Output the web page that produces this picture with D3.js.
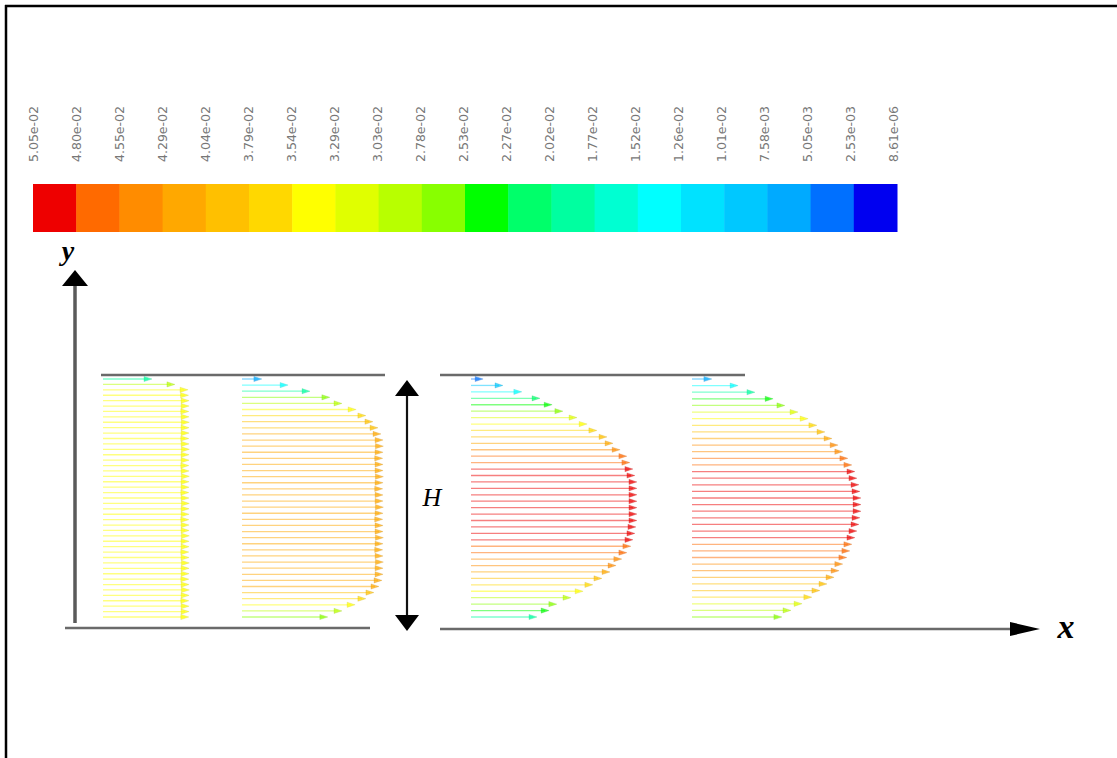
<!DOCTYPE html>
<html>
<head>
<meta charset="utf-8">
<script src="https://cdn.jsdelivr.net/npm/d3@7"></script>
<style>
  body { margin: 0; background: #fff; }
  svg { display: block; }
</style>
</head>
<body>
<svg width="1117" height="758"></svg>
<script>
// data
const tickLabels = ['5.05e-02', '4.80e-02', '4.55e-02', '4.29e-02', '4.04e-02', '3.79e-02', '3.54e-02',
  '3.29e-02', '3.03e-02', '2.78e-02', '2.53e-02', '2.27e-02', '2.02e-02', '1.77e-02', '1.52e-02',
  '1.26e-02', '1.01e-02', '7.58e-03', '5.05e-03', '2.53e-03', '8.61e-06'];

// bandes de la légende, de gauche (max) à droite (min)
const bandColors = ['#ee0000', '#ff6a00', '#ff8c00', '#ffa800', '#ffc000', '#ffd800', '#ffff00',
  '#e0ff00', '#b8ff00', '#88ff00', '#00ff00', '#00ff6a', '#00ffa0', '#00ffd2', '#00ffff',
  '#00e2ff', '#00c8ff', '#00aaff', '#0070ff', '#0000f0'];

const uMin = 8.61e-6;
const uMax = 0.0505;

// vitesses (m/s) le long de chaque section, du bas vers le haut
const profile1 = [0.0340, 0.0341, 0.0341, 0.0340, 0.0341, 0.0342, 0.0341, 0.0340, 0.0341, 0.0341,
  0.0342, 0.0341, 0.0340, 0.0341, 0.0341, 0.0342, 0.0341, 0.0341, 0.0340, 0.0341,
  0.0341, 0.0342, 0.0341, 0.0340, 0.0341, 0.0341, 0.0342, 0.0341, 0.0340, 0.0341,
  0.0341, 0.0342, 0.0341, 0.0340, 0.0341, 0.0341, 0.0342, 0.0341, 0.0340, 0.0341,
  0.0341, 0.0339, 0.0337, 0.0285, 0.0194];

const profile2 = [0.0255, 0.0297, 0.0336, 0.0368, 0.0392, 0.0407, 0.0416, 0.0419, 0.0419, 0.0420,
  0.0419, 0.0418, 0.0419, 0.0420, 0.0419, 0.0419, 0.0418, 0.0419, 0.0420, 0.0419,
  0.0419, 0.0418, 0.0419, 0.0420, 0.0419, 0.0419, 0.0418, 0.0419, 0.0420, 0.0419,
  0.0413, 0.0404, 0.0389, 0.0368, 0.0339, 0.0297, 0.0261, 0.0202, 0.0137, 0.0059];

const profile3 = [0.0196, 0.0232, 0.0255, 0.0297, 0.0333, 0.0362, 0.0389, 0.0413, 0.0431, 0.0448,
  0.0463, 0.0475, 0.0481, 0.0487, 0.0490, 0.0493, 0.0493, 0.0493, 0.0493, 0.0493,
  0.0493, 0.0493, 0.0487, 0.0481, 0.0472, 0.0463, 0.0443, 0.0422, 0.0404, 0.0374,
  0.0345, 0.0315, 0.0273, 0.0241, 0.0205, 0.0151, 0.0095, 0.0036];

const profile4 = [0.0267, 0.0294, 0.0327, 0.0356, 0.0380, 0.0401, 0.0422, 0.0437, 0.0448, 0.0460,
  0.0469, 0.0475, 0.0484, 0.0490, 0.0496, 0.0499, 0.0502, 0.0502, 0.0502, 0.0499,
  0.0496, 0.0490, 0.0484, 0.0475, 0.0463, 0.0448, 0.0434, 0.0416, 0.0395, 0.0371,
  0.0345, 0.0315, 0.0276, 0.0241, 0.0187, 0.0137, 0.0059];

const profiles = [profile1, profile2, profile3, profile4];
// facteur d'échelle des vecteurs pour chaque section
const vectorScale = [0.75, 1, 1, 1];

// layout
const svg = d3.select('svg');
const WIDTH = +svg.attr('width');
const HEIGHT = +svg.attr('height');
const profileX = [103, 242, 471, 692];
const wallTop = 375;
const wallBottom = 628;

const colorScale = d3.scaleQuantize()
  .domain([uMin, uMax])
  .range(bandColors.slice().reverse());

const lenScale = d3.scaleLinear().domain([0, uMax]).range([0, 170]);
const yScale = d3.scaleLinear().domain([0, 1]).range([617, 379]);

// cadre
svg.append('line').attr('x1', 5).attr('x2', WIDTH).attr('y1', 6).attr('y2', 6)
  .attr('stroke', '#000').attr('stroke-width', 2.5);
svg.append('line').attr('x1', 6).attr('x2', 6).attr('y1', 5).attr('y2', HEIGHT)
  .attr('stroke', '#000').attr('stroke-width', 2.5);

//-----------------------légende-----------------------//
const xBand = d3.scaleBand().domain(d3.range(bandColors.length)).range([33, 897]);
const xTick = d3.scalePoint().domain(tickLabels).range([34, 894]);

svg.append('g').selectAll('rect')
  .data(bandColors)
  .join('rect')
  .attr('x', (d, i) => xBand(i))
  .attr('y', 184)
  .attr('width', xBand.bandwidth() + 0.5)
  .attr('height', 48)
  .attr('fill', d => d);

svg.append('g').selectAll('text')
  .data(tickLabels)
  .join('text')
  .attr('transform', d => `translate(${xTick(d)},162) rotate(-90)`)
  .attr('dominant-baseline', 'central')
  .attr('text-anchor', 'start')
  .attr('textLength', 56)
  .attr('lengthAdjust', 'spacingAndGlyphs')
  .style('font-family', 'DejaVu Sans, Arial, sans-serif')
  .style('font-size', '12px')
  .attr('fill', '#777')
  .text(d => d);

//-----------------------parois et axes-----------------------//
const wall = svg.append('g').attr('stroke', '#6a6a6a').attr('stroke-width', 2.5);
wall.append('line').attr('x1', 101).attr('x2', 385).attr('y1', wallTop).attr('y2', wallTop);
wall.append('line').attr('x1', 440).attr('x2', 745).attr('y1', wallTop).attr('y2', wallTop);
wall.append('line').attr('x1', 65).attr('x2', 370).attr('y1', wallBottom).attr('y2', wallBottom);
wall.append('line').attr('x1', 440).attr('x2', 1015).attr('y1', wallBottom + 1).attr('y2', wallBottom + 1);

// axe y
svg.append('line').attr('x1', 75).attr('x2', 75).attr('y1', 623).attr('y2', 283)
  .attr('stroke', '#5a5a5a').attr('stroke-width', 3.5);
svg.append('path').attr('d', 'M75,270 L62,286 L88,286 Z').attr('fill', '#000');

// axe x
svg.append('path').attr('d', `M1040,${wallBottom + 1} L1010,${wallBottom - 6} L1010,${wallBottom + 8} Z`)
  .attr('fill', '#000');

// double flèche H
svg.append('line').attr('x1', 407).attr('x2', 407).attr('y1', 392).attr('y2', 618)
  .attr('stroke', '#111').attr('stroke-width', 2.2);
svg.append('path').attr('d', 'M407,380 L395,396 L419,396 Z').attr('fill', '#000');
svg.append('path').attr('d', 'M407,631 L395,615 L419,615 Z').attr('fill', '#000');

const serif = 'Liberation Serif, Times New Roman, serif';
svg.append('text').attr('x', 68).attr('y', 260).attr('text-anchor', 'middle')
  .style('font-family', serif).style('font-style', 'italic').style('font-weight', 'bold')
  .style('font-size', '28px').text('y');
svg.append('text').attr('x', 1066).attr('y', 638).attr('text-anchor', 'middle')
  .style('font-family', serif).style('font-style', 'italic').style('font-weight', 'bold')
  .style('font-size', '34px').text('x');
svg.append('text').attr('x', 432).attr('y', 506).attr('text-anchor', 'middle')
  .style('font-family', serif).style('font-style', 'italic')
  .style('font-size', '26px').text('H');

//-----------------------vecteurs-----------------------//
profiles.forEach((prof, k) => {
  const x0 = profileX[k];
  const n = prof.length;
  const g = svg.append('g');
  const items = prof.map((u, i) => ({
    u: u,
    y: yScale(i / (n - 1)),
    x1: x0 + lenScale(u) * vectorScale[k]
  }));

  g.selectAll('line')
    .data(items)
    .join('line')
    .attr('x1', x0)
    .attr('x2', d => d.x1 - 4)
    .attr('y1', d => d.y)
    .attr('y2', d => d.y)
    .attr('stroke', d => colorScale(d.u))
    .attr('stroke-opacity', 0.5)
    .attr('stroke-width', 1.3);

  g.selectAll('path')
    .data(items)
    .join('path')
    .attr('d', d => `M${d.x1},${d.y} L${d.x1 - 8},${d.y - 2.6} L${d.x1 - 8},${d.y + 2.6} Z`)
    .attr('fill', d => colorScale(d.u))
    .attr('fill-opacity', 0.7)
    .attr('stroke', d => d3.color(colorScale(d.u)).darker(0.8))
    .attr('stroke-opacity', 0.35)
    .attr('stroke-width', 0.6);
});
</script>
</body>
</html>
